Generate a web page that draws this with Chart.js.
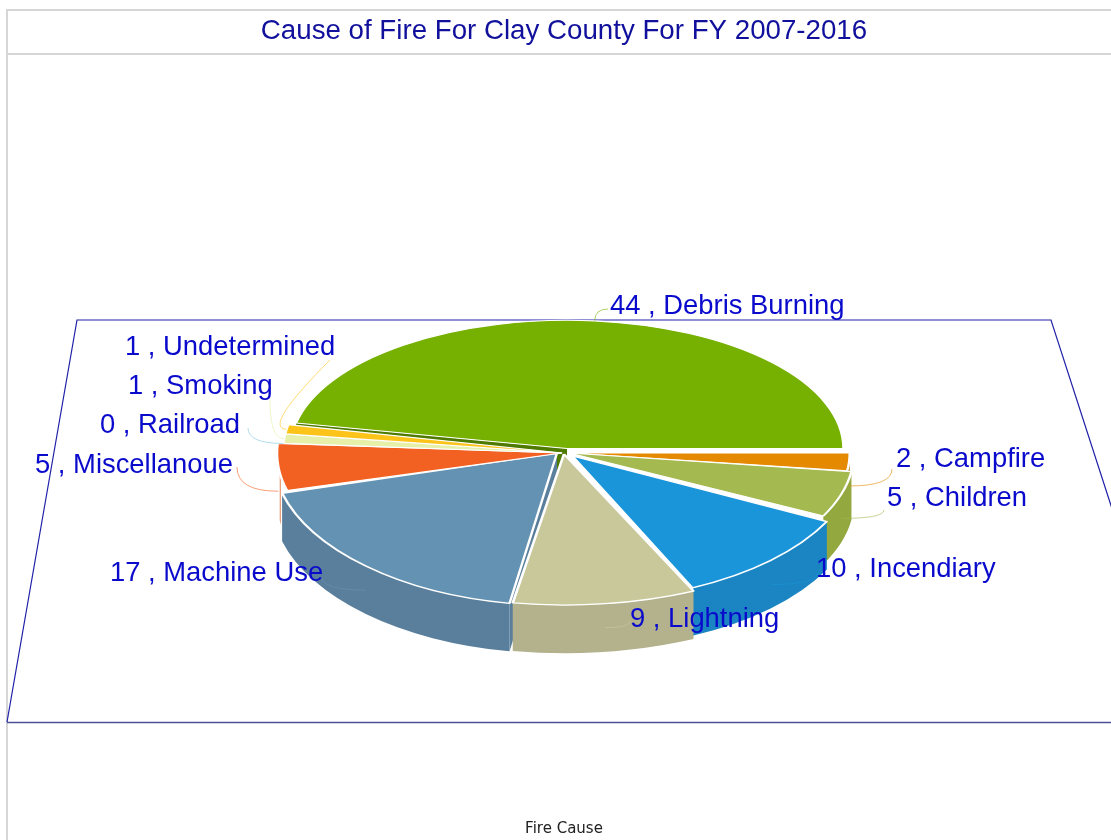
<!DOCTYPE html>
<html lang="en">
<head>
  <meta charset="utf-8">
  <title>Cause of Fire For Clay County</title>
  <script src="https://cdn.jsdelivr.net/npm/chart.js"></script>
  <style>
    html, body { margin: 0; padding: 0; background: #fff; }
    canvas { display: block; }
  </style>
</head>
<body>
<canvas id="myChart" width="1111" height="840"></canvas>
<script>
  const categories = ['Debris Burning', 'Campfire', 'Children', 'Incendiary', 'Lightning',
    'Machine Use', 'Miscellanoue', 'Railroad', 'Smoking', 'Undetermined'];
  const fireCounts = [44, 2, 5, 10, 9, 17, 5, 0, 1, 1];

  const topColors = ['#76b000', '#e58a00', '#a4b94f', '#1b95d9', '#c9c89b',
    '#6492b3', '#f26122', '#7fc8dc', '#e6f0a8', '#fcc419'];
  const wallColors = ['#4f7a00', '#b96f00', '#93a83f', '#1a85c2', '#b3b28c',
    '#5a7f9c', '#e8a07a', '#6aa8b8', '#c2cb8c', '#d3a414'];

  // per slice squash and pull-out, the back of the pie reads narrower than the front
  const sliceScaleX = [0.97, 0.985, 1, 1, 1.08, 1, 1, 0.98, 0.98, 0.98];
  const sliceScaleY = [0.45, 0.47, 0.49, 0.51, 0.53, 0.535, 0.5, 0.5, 0.5, 0.5];
  const sliceShiftX = [1, 3, 3, 6.5, -2, -9, -4, -4, -4, -4];
  const sliceShiftY = [-4.5, 0, 0, 3, 1, 0, 0, 0, 0, 0];

  // where each "count , name" label sits and where its leader meets the text
  const labelSpots = [
    { x: 610, y: 306, end: [608, 309] },
    { x: 896, y: 459, end: [892, 469] },
    { x: 887, y: 498, end: [884, 510] },
    { x: 816, y: 569, end: [818, 572] },
    { x: 630, y: 619, end: [630, 621] },
    { x: 110, y: 573, end: [322, 577] },
    { x: 35, y: 465, end: [237, 467] },
    { x: 100, y: 425, end: [248, 428] },
    { x: 128, y: 386, end: [270, 400] },
    { x: 125, y: 347, end: [330, 360], bend: [262, 428] }
  ];

  const pieCenter = { x: 566, y: 453 };
  const pieDepth = 48;
  const backSlice = categories.indexOf('Debris Burning');
  const thinRimSlice = categories.indexOf('Miscellanoue');
  const facedSlices = [backSlice, categories.indexOf('Machine Use')];

  // Every slice is a normal arc element, squashed onto the table plane.
  function sliceTilt(arc, index) {
    return {
      sx: sliceScaleX[index],
      sy: sliceScaleY[index],
      mid: (arc.startAngle + arc.endAngle) / 2,
      cx: pieCenter.x + sliceShiftX[index],
      cy: pieCenter.y + sliceShiftY[index]
    };
  }

  function drawSideFace(ctx, tilt, radius, angle) {
    const rimX = tilt.cx + Math.cos(angle) * radius * tilt.sx;
    const rimY = tilt.cy + Math.sin(angle) * radius * tilt.sy;
    ctx.beginPath();
    ctx.moveTo(tilt.cx, tilt.cy);
    ctx.lineTo(rimX, rimY);
    ctx.lineTo(rimX, rimY + pieDepth);
    ctx.lineTo(tilt.cx, tilt.cy + pieDepth);
    ctx.closePath();
    ctx.fill();
  }

  class TiltedPieController extends Chart.PieController {
    draw() {
      const ctx = this.chart.ctx;
      const arcs = this.getMeta().data;

      // inner faces first, they only show through the gaps between slices
      facedSlices.forEach((i) => {
        const arc = arcs[i];
        ctx.fillStyle = wallColors[i];
        drawSideFace(ctx, sliceTilt(arc, i), arc.outerRadius, arc.startAngle);
      });

      // outer rim, only the part that faces the viewer
      arcs.forEach((arc, i) => {
        let from = Math.max(arc.startAngle, 0);
        let to = Math.min(arc.endAngle, Math.PI);
        if (to <= from) return;
        if (i === thinRimSlice) {
          from += 0.1;
          to = from + 0.03;
        }
        const tilt = sliceTilt(arc, i);
        const rx = arc.outerRadius * tilt.sx;
        const ry = arc.outerRadius * tilt.sy;
        ctx.beginPath();
        ctx.ellipse(tilt.cx, tilt.cy, rx, ry, 0, from, to);
        ctx.ellipse(tilt.cx, tilt.cy + pieDepth, rx, ry, 0, to, from, true);
        ctx.closePath();
        ctx.fillStyle = wallColors[i];
        ctx.fill();
      });

      arcs.forEach((arc, i) => {
        const tilt = sliceTilt(arc, i);
        ctx.save();
        ctx.translate(tilt.cx, tilt.cy);
        ctx.scale(tilt.sx, tilt.sy);
        ctx.translate(-arc.x, -arc.y);
        arc.draw(ctx);
        ctx.restore();
      });
    }
  }
  TiltedPieController.id = 'tiltedPie';
  TiltedPieController.defaults = { radius: 285 };
  Chart.register(TiltedPieController);

  const framePlugin = {
    id: 'frame',
    beforeDatasetsDraw(chart) {
      const { ctx, width, height } = chart;
      ctx.save();
      ctx.strokeStyle = '#d6d6d6';
      ctx.lineWidth = 2;
      ctx.beginPath();
      ctx.moveTo(7, height);
      ctx.lineTo(7, 10);
      ctx.lineTo(width, 10);
      ctx.moveTo(7, 54);
      ctx.lineTo(width, 54);
      ctx.stroke();

      // floor of the plot, its right corner runs off the page
      ctx.strokeStyle = '#2020a8';
      ctx.lineWidth = 1.2;
      ctx.beginPath();
      ctx.moveTo(7, 722);
      ctx.lineTo(77, 320);
      ctx.lineTo(1051, 320);
      ctx.lineTo(1181, 722);
      ctx.stroke();
      ctx.strokeStyle = '#4d4f96';
      ctx.lineWidth = 1.6;
      ctx.beginPath();
      ctx.moveTo(7, 722.5);
      ctx.lineTo(width, 722.5);
      ctx.stroke();
      ctx.restore();
    }
  };

  const labelPlugin = {
    id: 'sliceLabels',
    afterDatasetsDraw(chart) {
      const ctx = chart.ctx;
      const arcs = chart.getDatasetMeta(0).data;
      ctx.save();

      arcs.forEach((arc, i) => {
        const tilt = sliceTilt(arc, i);
        const spot = labelSpots[i];
        const angle = tilt.mid;
        const anchorX = tilt.cx + Math.cos(angle) * arc.outerRadius * tilt.sx;
        let anchorY = tilt.cy + Math.sin(angle) * arc.outerRadius * tilt.sy;
        if (Math.sin(angle) > 0) anchorY += pieDepth / 2;
        const bend = spot.bend || (i === backSlice ? [anchorX, spot.end[1]] : [spot.end[0], anchorY]);
        ctx.beginPath();
        ctx.moveTo(anchorX, anchorY);
        ctx.quadraticCurveTo(bend[0], bend[1], spot.end[0], spot.end[1]);
        ctx.strokeStyle = topColors[i];
        ctx.globalAlpha = 0.6;
        ctx.lineWidth = 1;
        ctx.stroke();
      });

      ctx.globalAlpha = 1;
      ctx.font = '27.4px "Liberation Sans"';
      ctx.fillStyle = '#0a0acc';
      ctx.textAlign = 'left';
      ctx.textBaseline = 'middle';
      categories.forEach((name, i) => {
        ctx.fillText(fireCounts[i] + ' , ' + name, labelSpots[i].x, labelSpots[i].y);
      });
      ctx.restore();
    }
  };

  const myChart = new Chart(document.getElementById('myChart'), {
    type: 'tiltedPie',
    data: {
      labels: categories,
      datasets: [{
        data: fireCounts,
        backgroundColor: topColors,
        borderColor: '#ffffff',
        borderWidth: 2.5
      }]
    },
    options: {
      responsive: false,
      animation: false,
      rotation: -78.5,
      radius: 285,
      layout: { padding: { left: 17, top: 10 } },
      plugins: {
        legend: { display: false },
        tooltip: { enabled: false },
        title: {
          display: true,
          text: 'Cause of Fire For Clay County For FY 2007-2016',
          color: '#10109c',
          font: { family: '"Liberation Sans"', size: 27.7, weight: 'normal' },
          padding: { top: 5, bottom: 8 }
        },
        subtitle: {
          display: true,
          position: 'bottom',
          text: 'Fire Cause',
          color: '#222222',
          font: { family: '"DejaVu Sans"', size: 15, weight: 'normal' },
          padding: { top: 4, bottom: 2 }
        }
      }
    },
    plugins: [framePlugin, labelPlugin]
  });
</script>
</body>
</html>
